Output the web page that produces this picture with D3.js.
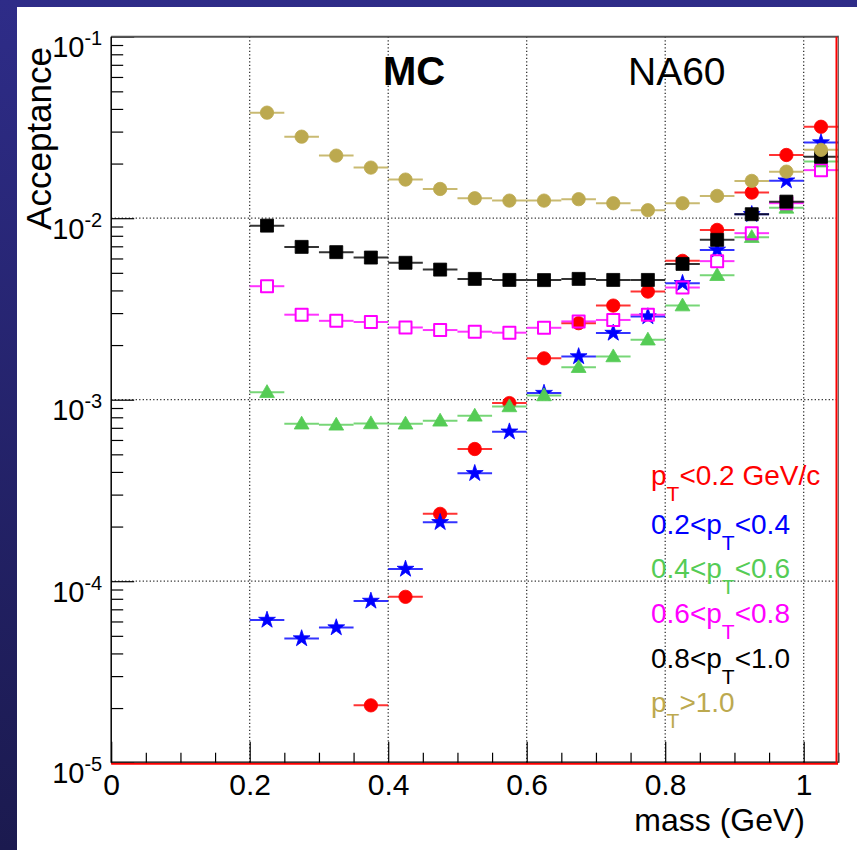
<!DOCTYPE html>
<html>
<head>
<meta charset="utf-8">
<script src="https://cdn.jsdelivr.net/npm/d3@7"></script>
<style>
  html, body { margin: 0; padding: 0; background: #fff; }
  svg { display: block; }
  text { font-family: "Liberation Sans", Arial, Helvetica, sans-serif; }
</style>
</head>
<body>
<svg id="chart" width="857" height="850"></svg>
<script>
// Dimuon mass bin centres (GeV), bin width 0.05
const massBins = [0.225, 0.275, 0.325, 0.375, 0.425, 0.475, 0.525, 0.575, 0.625,
                  0.675, 0.725, 0.775, 0.825, 0.875, 0.925, 0.975, 1.025];
const binHalfWidth = 0.025;

// Acceptance per pT slice (null = no entry)
const accPt0002 = [null, null, null, 2.07e-5, 8.2e-5, 2.35e-4, 5.35e-4, 9.58e-4, 1.69e-3,
                   2.64e-3, 3.30e-3, 3.94e-3, 5.82e-3, 8.62e-3, 1.384e-2, 2.23e-2, 3.19e-2];
const accPt0204 = [6.11e-5, 4.83e-5, 5.55e-5, 7.78e-5, 1.167e-4, 2.11e-4, 3.93e-4, 6.66e-4, 1.087e-3,
                   1.73e-3, 2.33e-3, 2.87e-3, 4.38e-3, 6.69e-3, 1.05e-2, 1.61e-2, 2.61e-2];
const accPt0406 = [1.10e-3, 7.37e-4, 7.27e-4, 7.40e-4, 7.37e-4, 7.65e-4, 8.15e-4, 9.18e-4, 1.055e-3,
                   1.51e-3, 1.73e-3, 2.14e-3, 3.30e-3, 4.85e-3, 7.86e-3, 1.14e-2, 2.05e-2];
const accPt0608 = [4.22e-3, 2.94e-3, 2.72e-3, 2.68e-3, 2.50e-3, 2.42e-3, 2.37e-3, 2.34e-3, 2.49e-3,
                   2.70e-3, 2.75e-3, 2.94e-3, 4.15e-3, 5.80e-3, 8.27e-3, 1.21e-2, 1.84e-2];
const accPt0810 = [9.10e-3, 6.95e-3, 6.50e-3, 6.07e-3, 5.68e-3, 5.21e-3, 4.63e-3, 4.57e-3, 4.56e-3,
                   4.63e-3, 4.57e-3, 4.57e-3, 5.60e-3, 7.60e-3, 1.052e-2, 1.234e-2, 2.18e-2];
const accPt10up = [3.815e-2, 2.813e-2, 2.212e-2, 1.90e-2, 1.632e-2, 1.449e-2, 1.288e-2, 1.25e-2, 1.25e-2,
                   1.273e-2, 1.209e-2, 1.107e-2, 1.209e-2, 1.327e-2, 1.605e-2, 1.805e-2, 2.38e-2];

// Legend entries: pieces of text, "sub" pieces are subscripts
const legendLabels = [
  [["p"], ["T", "sub"], ["<0.2 GeV/c"]],
  [["0.2<p"], ["T", "sub"], ["<0.4"]],
  [["0.4<p"], ["T", "sub"], ["<0.6"]],
  [["0.6<p"], ["T", "sub"], ["<0.8"]],
  [["0.8<p"], ["T", "sub"], ["<1.0"]],
  [["p"], ["T", "sub"], [">1.0"]]
];

// Axis ticks
const xMajorTicks = [0, 0.2, 0.4, 0.6, 0.8, 1];
const xMinorTicks = [0.05, 0.1, 0.15, 0.25, 0.3, 0.35, 0.45, 0.5, 0.55, 0.65, 0.7, 0.75,
                     0.85, 0.9, 0.95, 1.05];
const yDecades = [1e-5, 1e-4, 1e-3, 1e-2, 1e-1];
const yExponents = ["-5", "-4", "-3", "-2", "-1"];
const xTickLabels = ["0", "0.2", "0.4", "0.6", "0.8", "1"];

const seriesValues = [accPt0002, accPt0204, accPt0406, accPt0608, accPt0810, accPt10up];
const seriesColors = ["#ff0000", "#0000ff", "#55cc55", "#ff00ff", "#000000", "#bca94f"];
const seriesMarkers = ["circle", "star", "triangle", "openSquare", "square", "circle"];

const svg = d3.select("#chart");
const W = 857, H = 850;

// Page background: dark blue border around a white canvas
const defs = svg.append("defs");
const grad = defs.append("linearGradient").attr("id", "bgGrad")
  .attr("x1", 0).attr("y1", 0).attr("x2", 0).attr("y2", 1);
grad.append("stop").attr("offset", "0%").attr("stop-color", "#2e2c88");
grad.append("stop").attr("offset", "100%").attr("stop-color", "#1b1a4f");
svg.append("rect").attr("width", W).attr("height", H).attr("fill", "url(#bgGrad)");
svg.append("rect").attr("x", 17).attr("y", 7).attr("width", W - 17).attr("height", H - 7)
  .attr("fill", "#ffffff");

const plotL = 111.2, plotR = 838, plotT = 36.7, plotB = 762.7;

const x = d3.scaleLinear().domain([0, 1.05]).range([plotL, plotL + 1.05 * 692.5]);
const y = d3.scaleLog().domain([1e-5, 1e-1]).range([plotB, plotT]);

// Dotted grid
const grid = svg.append("g").attr("stroke", "#222").attr("stroke-width", 1.2)
  .attr("stroke-dasharray", "1.2,2.3");
grid.selectAll("line.vx").data(xMajorTicks.filter(d => d > 0)).join("line")
  .attr("class", "vx")
  .attr("x1", d => x(d)).attr("x2", d => x(d)).attr("y1", plotT).attr("y2", plotB);
grid.selectAll("line.hy").data(yDecades.slice(1, 4)).join("line")
  .attr("class", "hy")
  .attr("y1", d => y(d)).attr("y2", d => y(d)).attr("x1", plotL).attr("x2", plotR);

// Data: error bars then markers, series drawn in legend order
const symGen = {
  circle: d3.symbol(d3.symbolCircle, 140),
  square: d3.symbol(d3.symbolSquare, 169),
  openSquare: d3.symbol(d3.symbolSquare, 144),
  triangle: d3.symbol(d3.symbolTriangle, 95),
  star: d3.symbol(d3.symbolStar, 88)
};

seriesValues.forEach((vals, si) => {
  const color = seriesColors[si];
  const marker = seriesMarkers[si];
  const pts = massBins.map((m, i) => ({ m, v: vals[i] })).filter(p => p.v != null);
  const g = svg.append("g");
  const halfGap = marker === "openSquare" ? 6 : 0;
  pts.forEach(p => {
    const cx = x(p.m), cy = y(p.v);
    const segs = halfGap
      ? [[x(p.m - binHalfWidth), cx - halfGap], [cx + halfGap, x(p.m + binHalfWidth)]]
      : [[x(p.m - binHalfWidth), x(p.m + binHalfWidth)]];
    segs.forEach(s => {
      g.append("line").attr("x1", s[0]).attr("x2", s[1]).attr("y1", cy).attr("y2", cy)
        .attr("stroke", color).attr("stroke-width", 2).attr("stroke-opacity", 0.8);
    });
  });
  g.selectAll("path.mk").data(pts).join("path")
    .attr("class", "mk")
    .attr("transform", d => `translate(${x(d.m)},${y(d.v) + (marker === "triangle" ? 1 : 0)})`)
    .attr("d", symGen[marker]())
    .attr("fill", marker === "openSquare" ? "none" : color)
    .attr("stroke", color)
    .attr("stroke-width", marker === "openSquare" ? 2 : 0.8)
    .attr("stroke-linejoin", "round");
});

// X axis: major and minor ticks pointing inward
const xAxis = d3.axisBottom(x).tickValues(xMajorTicks)
  .tickSizeInner(-21).tickSizeOuter(0).tickPadding(11)
  .tickFormat((d, i) => xTickLabels[i]);
const gx = svg.append("g").attr("transform", `translate(0,${plotB})`).call(xAxis);
gx.select(".domain").remove();
gx.selectAll(".tick line").attr("stroke", "#000").attr("stroke-width", 1.2);
gx.selectAll(".tick text").attr("font-size", 30).attr("fill", "#000")
  .style("font-family", '"Liberation Sans", Arial, sans-serif');

const gxm = svg.append("g").attr("transform", `translate(0,${plotB})`)
  .call(d3.axisBottom(x).tickValues(xMinorTicks).tickSizeInner(-10).tickSizeOuter(0).tickFormat(""));
gxm.select(".domain").remove();
gxm.selectAll(".tick line").attr("stroke", "#000").attr("stroke-width", 1.2);

// Y axis: decades with superscripted exponent, minor ticks at 2..9
const yMinor = [];
yDecades.slice(0, 4).forEach(d => { for (let k = 2; k <= 9; k++) yMinor.push(d * k); });

const gy = svg.append("g").attr("transform", `translate(${plotL},0)`)
  .call(d3.axisLeft(y).tickValues(yDecades).tickSizeInner(-23).tickSizeOuter(0).tickFormat(""));
gy.select(".domain").remove();
gy.selectAll(".tick line").attr("stroke", "#000").attr("stroke-width", 1.2);
gy.selectAll(".tick text").remove();
gy.selectAll(".tick").each(function (d, i) {
  const t = d3.select(this).append("text")
    .attr("x", -9).attr("y", 20).attr("text-anchor", "end").attr("fill", "#000");
  t.append("tspan").attr("font-size", 29).text("10");
  t.append("tspan").attr("font-size", 20).attr("dy", -12).text(yExponents[i]);
});

const gym = svg.append("g").attr("transform", `translate(${plotL},0)`)
  .call(d3.axisLeft(y).tickValues(yMinor).tickSizeInner(-12).tickSizeOuter(0).tickFormat(""));
gym.select(".domain").remove();
gym.selectAll(".tick line").attr("stroke", "#000").attr("stroke-width", 1.2);

// Frame
svg.append("line").attr("x1", plotL).attr("x2", plotR).attr("y1", plotT).attr("y2", plotT)
  .attr("stroke", "#555").attr("stroke-width", 2);
svg.append("line").attr("x1", plotL).attr("x2", plotL).attr("y1", plotT).attr("y2", plotB)
  .attr("stroke", "#000").attr("stroke-width", 1.5);
svg.append("line").attr("x1", plotL).attr("x2", plotR).attr("y1", plotB + 1).attr("y2", plotB + 1)
  .attr("stroke", "#ff0000").attr("stroke-width", 2);
svg.append("line").attr("x1", plotL).attr("x2", plotR).attr("y1", plotB - 0.5).attr("y2", plotB - 0.5)
  .attr("stroke", "#000").attr("stroke-width", 1.2);
svg.append("line").attr("x1", plotR - 1.5).attr("x2", plotR - 1.5).attr("y1", plotT).attr("y2", plotB + 1)
  .attr("stroke", "#ff0000").attr("stroke-width", 2);
svg.append("line").attr("x1", plotR + 0.3).attr("x2", plotR + 0.3).attr("y1", plotT - 1).attr("y2", plotB)
  .attr("stroke", "#444").attr("stroke-width", 1);

// Axis titles
svg.append("text").attr("x", 805).attr("y", 831).attr("text-anchor", "end")
  .attr("font-size", 32).attr("fill", "#000").text("mass (GeV)");
svg.append("text").attr("transform", "translate(51,47) rotate(-90)").attr("text-anchor", "end")
  .attr("font-size", 35).attr("fill", "#000").text("Acceptance");

// Headline labels
svg.append("text").attr("x", 383).attr("y", 85).attr("font-size", 40).attr("font-weight", "bold")
  .attr("fill", "#000").text("MC");
svg.append("text").attr("x", 628).attr("y", 85).attr("font-size", 39)
  .attr("fill", "#000").text("NA60");

// Legend text, coloured per series
const legendBaselines = [485, 534, 578, 623, 668, 712];
legendLabels.forEach((parts, i) => {
  const t = svg.append("text").attr("x", 651).attr("y", legendBaselines[i])
    .attr("fill", seriesColors[i]).attr("font-size", 28);
  let shifted = false;
  parts.forEach(p => {
    const ts = t.append("tspan").text(p[0]);
    if (p[1] === "sub") { ts.attr("font-size", 21).attr("dy", 16); shifted = true; }
    else if (shifted) { ts.attr("dy", -16); shifted = false; }
  });
});
</script>
</body>
</html>
